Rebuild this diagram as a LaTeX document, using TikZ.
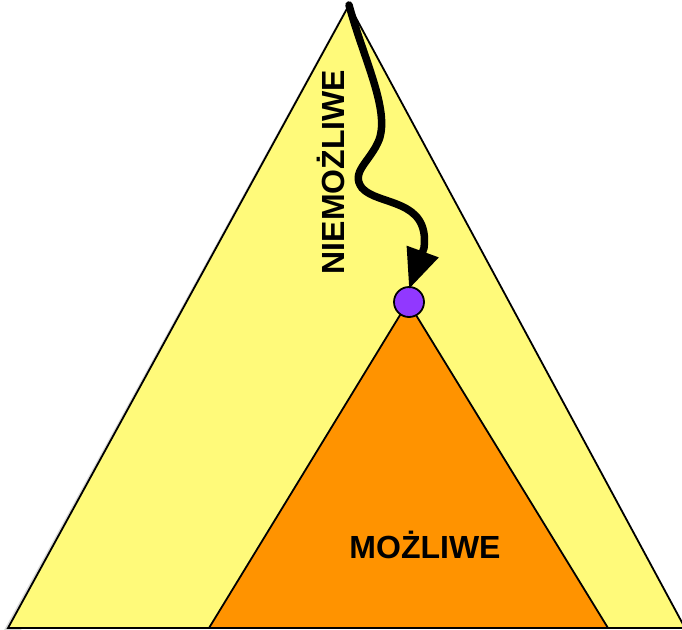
\documentclass[tikz,border=0pt]{standalone}
\usepackage{fontspec}
\setmainfont{Liberation Sans}
\usetikzlibrary{arrows.meta}
\definecolor{yel}{RGB}{255,250,122}
\definecolor{org}{RGB}{255,147,0}
\definecolor{pur}{RGB}{145,56,255}
\tikzset{
  tri/.style={draw=black, line width=1.8pt, line join=miter},
  lbl/.style={font=\bfseries\fontsize{32}{36}\selectfont, inner sep=0pt},
}
\begin{document}
\begin{tikzpicture}[x=1pt,y=-1pt]
\useasboundingbox (0,0) rectangle (682,629);
\begin{scope}
\clip (0,0) rectangle (682,629);
% shadow
\fill[black!15] (346,8) -- (3,632) -- (20,632) -- cycle;
\coordinate (apex) at (349,5);
\coordinate (bl) at (8,628);
\coordinate (br) at (685,628);
\fill[yel] (apex) -- (bl) -- (br) -- cycle;
\draw[tri] (apex) -- (bl) -- (br) -- cycle;
\coordinate (oapex) at (408,302);
\coordinate (obl) at (209,628);
\coordinate (obr) at (608,628);
\fill[org] (oapex) -- (obl) -- (obr) -- cycle;
\draw[tri] (oapex) -- (obl) -- (obr) -- cycle;
\end{scope}
\node[circle, draw=black, line width=1.8pt, fill=pur, minimum size=30pt, inner sep=0pt] (dot) at (409,302) {};
\node[lbl, rotate=90] (imp) at (331,172) {NIEMOŻLIWE};
\node[lbl] (pos) at (425,545) {MOŻLIWE};
\draw[line width=7.5pt, line cap=round, -{Triangle[length=40pt,width=32pt]}]
  (apex) .. controls (364,60) and (390,110) .. (379,140)
  .. controls (370,162) and (350,172) .. (362,188)
  .. controls (378,206) and (430,198) .. (424,248)
  -- ([yshift=-3pt]dot.north);
\end{tikzpicture}
\end{document}
